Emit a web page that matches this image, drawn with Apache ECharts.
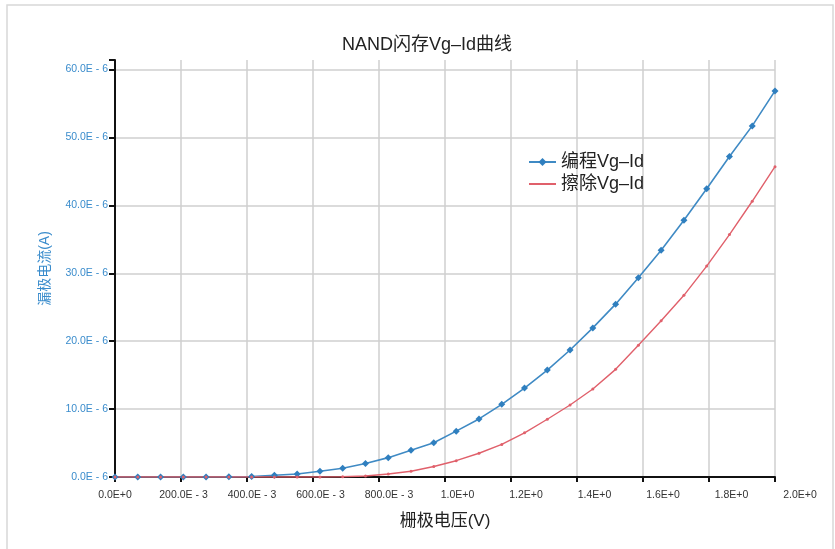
<!DOCTYPE html>
<html>
<head>
    <meta charset="UTF-8">
    <title>NAND闪存Vg-Id曲线</title>
    <script src="https://cdn.jsdelivr.net/npm/echarts@6/dist/echarts.min.js"></script>
</head>
<body style="margin:0;background:#fff;">
<div id="main" style="width:835px;height:549px;"></div>
<script type="text/javascript">

    // 栅极电压 (V)
    var vg = [0, 0.069, 0.138, 0.207, 0.276, 0.345, 0.414, 0.483, 0.552, 0.621,
        0.690, 0.759, 0.828, 0.897, 0.966, 1.034, 1.103, 1.172, 1.241, 1.310,
        1.379, 1.448, 1.517, 1.586, 1.655, 1.724, 1.793, 1.862, 1.931, 2.0];

    // 漏极电流, 单位 E-6 A
    var idProgram = [0, 0, 0, 0, 0, 0.02, 0.08, 0.25, 0.45, 0.85,
        1.3, 2.0, 2.85, 3.95, 5.05, 6.75, 8.55, 10.7, 13.1, 15.75,
        18.7, 21.95, 25.45, 29.35, 33.4, 37.8, 42.45, 47.2, 51.7, 56.85];

    var idErase = [0, 0, 0, 0, 0, 0, 0, 0, 0, 0,
        0.03, 0.15, 0.45, 0.85, 1.55, 2.4, 3.5, 4.8, 6.5, 8.5,
        10.6, 12.95, 15.85, 19.4, 23.0, 26.75, 31.05, 35.7, 40.6, 45.7];

    var seriesNames = ['编程Vg–Id', '擦除Vg–Id'];

    var font = 'Liberation Sans, Arial, Noto Sans CJK SC, sans-serif';

    function pairs(xs, ys) {
        return xs.map(function (x, i) {
            return [x, ys[i]];
        });
    }

    function xLabel(v) {
        if (v === 0) return '0.0E+0';
        if (v < 0.999) return (v * 1000).toFixed(1) + 'E - 3';
        return v.toFixed(1) + 'E+0';
    }

    var myChart = echarts.init(document.getElementById('main'));

    myChart.setOption({
        animation: false,
        backgroundColor: '#fff',
        graphic: [{
            type: 'rect',
            shape: {x: 7, y: 5, width: 826, height: 570},
            style: {fill: 'none', stroke: '#d8d8d8', lineWidth: 1.5},
            silent: true
        }],
        title: {
            text: 'NAND闪存Vg–Id曲线',
            left: 337,
            top: 31,
            textStyle: {fontSize: 18, fontWeight: 'normal', color: '#222', fontFamily: font}
        },
        legend: {
            orient: 'vertical',
            left: 523,
            top: 148,
            itemWidth: 27,
            itemHeight: 10,
            itemGap: 4,
            itemTextGap: 3,
            textStyle: {fontSize: 18, color: '#222', fontFamily: font},
            data: [
                {name: seriesNames[0]},
                {name: seriesNames[1], itemStyle: {opacity: 0}}
            ]
        },
        grid: [
            {left: 115, right: 60, top: 60, bottom: 72},
            {left: 115, right: 35, top: 60, bottom: 72}
        ],
        xAxis: [
            {
                type: 'value',
                gridIndex: 0,
                min: 0,
                max: 2,
                interval: 0.2,
                name: '栅极电压(V)',
                nameLocation: 'middle',
                nameGap: 36,
                nameTextStyle: {fontSize: 17, color: '#222', fontFamily: font},
                axisLine: {lineStyle: {color: '#111', width: 2}},
                axisTick: {show: true, length: 5, lineStyle: {color: '#111', width: 2}},
                axisLabel: {show: false},
                splitLine: {show: true, lineStyle: {color: '#cfcfcf', width: 1.5}}
            },
            {
                type: 'value',
                gridIndex: 1,
                min: 0,
                max: 2,
                interval: 0.2,
                axisLine: {show: false},
                axisTick: {show: false},
                splitLine: {show: false},
                axisLabel: {
                    margin: 13,
                    fontSize: 10.5,
                    color: '#333',
                    fontFamily: font,
                    formatter: xLabel
                }
            }
        ],
        yAxis: [
            {
                type: 'value',
                gridIndex: 0,
                min: 0,
                max: 61.4,
                interval: 10,
                name: '漏极电流(A)',
                nameLocation: 'middle',
                nameGap: 63,
                nameTextStyle: {fontSize: 14, color: '#3a8ccc', fontFamily: font},
                axisLine: {show: true, lineStyle: {color: '#111', width: 2}},
                axisTick: {show: true, length: 6, lineStyle: {color: '#111', width: 2}},
                axisLabel: {
                    margin: 7,
                    fontSize: 10.5,
                    color: '#3a8ccc',
                    fontFamily: font,
                    formatter: function (v) {
                        if (Math.abs(v / 10 - Math.round(v / 10)) > 1e-6) return '';
                        return v.toFixed(1) + 'E - 6';
                    }
                },
                splitLine: {show: true, showMaxLine: false, lineStyle: {color: '#cfcfcf', width: 1.5}}
            },
            {
                type: 'value',
                gridIndex: 1,
                show: false
            }
        ],
        series: [
            {
                name: seriesNames[0],
                type: 'line',
                xAxisIndex: 0,
                yAxisIndex: 0,
                symbol: 'diamond',
                symbolSize: 7,
                showAllSymbol: true,
                lineStyle: {color: '#3f8ac4', width: 1.6},
                itemStyle: {color: '#2f7fbf'},
                data: pairs(vg, idProgram)
            },
            {
                name: seriesNames[1],
                type: 'line',
                xAxisIndex: 0,
                yAxisIndex: 0,
                symbol: 'circle',
                symbolSize: 3,
                showAllSymbol: true,
                lineStyle: {color: '#e0606b', width: 1.4},
                itemStyle: {color: '#e0606b'},
                data: pairs(vg, idErase)
            }
        ]
    });
</script>
</body>
</html>
